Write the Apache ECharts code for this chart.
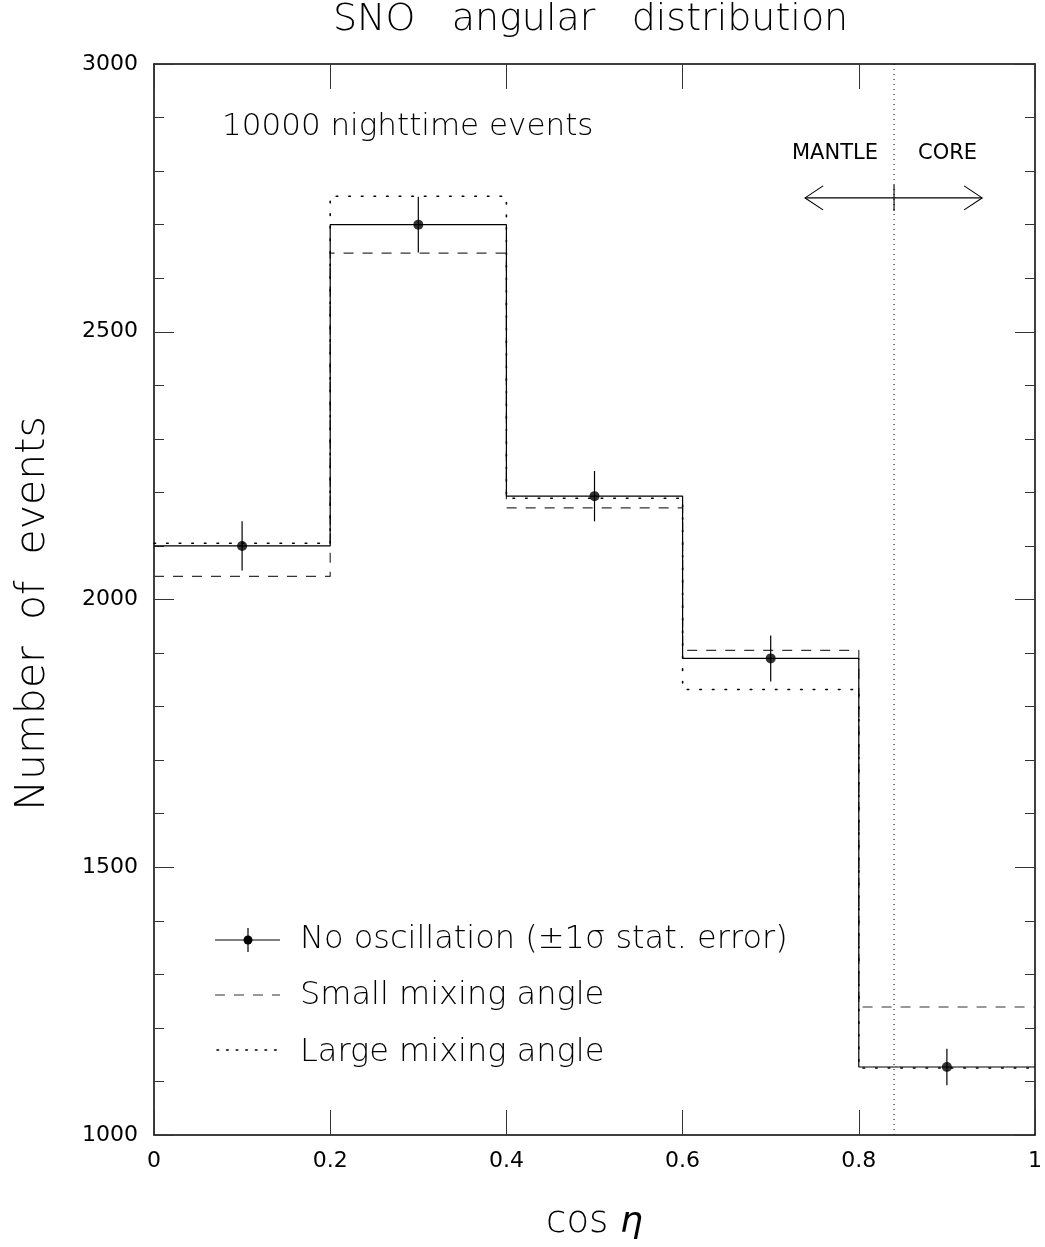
<!DOCTYPE html>
<html>
<head>
<meta charset="utf-8">
<script src="https://cdn.jsdelivr.net/npm/echarts@6/dist/echarts.min.js"></script>
<style>html,body{margin:0;padding:0;background:#fff;overflow:hidden;}#c{width:1045px;height:1247px;}</style>
</head>
<body>
<div id="c"></div>
<script>
// ---- data ----
const binEdges   = [0, 0.2, 0.4, 0.6, 0.8, 1.0];
const binCenters = [0.1, 0.3, 0.5, 0.7, 0.9];
const noOscillation = [2100, 2700, 2193, 1890, 1127];
const statErrors    = [46, 52, 47, 43, 34];
const smallMixing   = [2043, 2647, 2171, 1905, 1239];
const largeMixing   = [2105, 2753, 2189, 1832, 1125];
const mantleCoreBoundary = 0.84;
const arrowSpan = [0.739, 0.94];
const arrowLevel = 2750;
const yTicks = [1000, 1500, 2000, 2500, 3000];
const xTicks = [0, 0.2, 0.4, 0.6, 0.8, 1];

const FONT = 'DejaVu Sans';

function stepData(vals) {
  const pts = vals.map((v, i) => [binEdges[i], v]);
  pts.push([binEdges[binEdges.length - 1], vals[vals.length - 1]]);
  return pts;
}

const chart = echarts.init(document.getElementById('c'), null, {renderer: 'canvas', width: 1045, height: 1247});

const axisLineStyle = {lineStyle: {color: '#000', width: 1.5}};
const tickStyle = {color: '#333', width: 1};
const labelStyle = {color: '#000', fontSize: 22, fontFamily: FONT, fontWeight: 'normal'};

const option = {
  backgroundColor: '#fff',
  animation: false,
  grid: {left: 154, top: 64, width: 881, height: 1071, containLabel: false},
  xAxis: [
    {
      type: 'value', min: xTicks[0], max: xTicks[xTicks.length - 1], interval: 0.2, position: 'bottom',
      axisLine: {show: true, onZero: false, ...axisLineStyle},
      axisTick: {show: true, inside: true, length: 25, lineStyle: tickStyle},
      axisLabel: {show: true, margin: 15, ...labelStyle, formatter: v => String(v)},
      splitLine: {show: false},
      name: '{a|cos }{b|η}', nameLocation: 'middle', nameGap: 69,
      nameTextStyle: {rich: {
        a: {fontSize: 37, fontFamily: FONT, fontWeight: 200, color: '#000'},
        b: {fontSize: 36, fontFamily: FONT, fontWeight: 200, fontStyle: 'italic', color: '#000'}
      }}
    },
    {
      type: 'value', min: 0, max: 1, interval: 0.2, position: 'top',
      axisLine: {show: true, onZero: false, ...axisLineStyle},
      axisTick: {show: true, inside: true, length: 25, lineStyle: tickStyle},
      axisLabel: {show: false}, splitLine: {show: false}
    }
  ],
  yAxis: [
    {
      type: 'value', min: yTicks[0], max: yTicks[yTicks.length - 1], interval: 500, position: 'left',
      axisLine: {show: true, onZero: false, ...axisLineStyle},
      axisTick: {show: true, inside: true, length: 20, lineStyle: tickStyle},
      minorTick: {show: true, splitNumber: 5, length: 10, lineStyle: tickStyle},
      axisLabel: {show: true, margin: 16, ...labelStyle, formatter: v => String(v)},
      splitLine: {show: false},
      name: 'Number  of  events', nameLocation: 'middle', nameGap: 100,
      nameTextStyle: {fontSize: 41, fontFamily: FONT, fontWeight: 200, color: '#000', padding: [0, 28, 0, 0]}
    },
    {
      type: 'value', min: 1000, max: 3000, interval: 500, position: 'right',
      axisLine: {show: true, onZero: false, ...axisLineStyle},
      axisTick: {show: true, inside: true, length: 20, lineStyle: tickStyle},
      minorTick: {show: true, splitNumber: 5, length: 10, lineStyle: tickStyle},
      axisLabel: {show: false}, splitLine: {show: false}
    }
  ],
  series: [
    {
      name: 'Small mixing angle', type: 'line', step: 'end', data: stepData(smallMixing),
      showSymbol: false, symbol: 'none', z: 2,
      lineStyle: {color: '#333', width: 1.2, type: [10, 9]}
    },
    {
      name: 'Large mixing angle', type: 'line', step: 'end', data: stepData(largeMixing),
      showSymbol: false, symbol: 'none', z: 2,
      lineStyle: {color: '#000', width: 1.6, type: [1.6, 11], cap: 'round'}
    },
    {
      name: 'No oscillation', type: 'line', step: 'end', data: stepData(noOscillation),
      showSymbol: false, symbol: 'none', z: 3,
      lineStyle: {color: '#000', width: 1.2, type: 'solid'}
    },
    {
      name: 'points', type: 'scatter', data: binCenters.map((x, i) => [x, noOscillation[i]]),
      symbol: 'circle', symbolSize: 10, itemStyle: {color: '#000'}, z: 5
    },
    {
      name: 'errors', type: 'custom', z: 4,
      data: binCenters.map((x, i) => [x, noOscillation[i], statErrors[i]]),
      renderItem: function (params, api) {
        const x = api.value(0), y = api.value(1), e = api.value(2);
        const p1 = api.coord([x, y - e]);
        const p2 = api.coord([x, y + e]);
        return {type: 'line', shape: {x1: p1[0], y1: p1[1], x2: p2[0], y2: p2[1]},
                style: {stroke: '#000', lineWidth: 1.2}};
      }
    },
    {
      name: 'boundary', type: 'line', data: [[mantleCoreBoundary, 1000], [mantleCoreBoundary, 3000]],
      showSymbol: false, symbol: 'none', z: 1,
      lineStyle: {color: '#000', width: 1, type: [1, 4]}
    },
    {
      name: 'arrow', type: 'custom', z: 6,
      data: [[arrowSpan[0], arrowLevel, arrowSpan[1], mantleCoreBoundary]],
      renderItem: function (params, api) {
        const L = api.coord([api.value(0), api.value(1)]);
        const R = api.coord([api.value(2), api.value(1)]);
        const M = api.coord([api.value(3), api.value(1)]);
        const st = {stroke: '#000', lineWidth: 1.1, fill: null};
        return {type: 'group', children: [
          {type: 'line', shape: {x1: L[0], y1: L[1], x2: R[0], y2: R[1]}, style: st},
          {type: 'line', shape: {x1: M[0], y1: M[1] - 13, x2: M[0], y2: M[1] + 13}, style: st},
          {type: 'polyline', shape: {points: [[L[0] + 18, L[1] - 12], [L[0], L[1]], [L[0] + 18, L[1] + 12]]}, style: st},
          {type: 'polyline', shape: {points: [[R[0] - 18, R[1] - 12], [R[0], R[1]], [R[0] - 18, R[1] + 12]]}, style: st}
        ]};
      }
    }
  ],
  graphic: [
    {type: 'text', left: 333, top: 1, style: {text: 'SNO   angular   distribution', fontSize: 38, fontFamily: FONT, fontWeight: 200, fill: '#000'}},
    {type: 'text', left: 222, top: 111, style: {text: '10000 nighttime events', fontSize: 31, fontFamily: FONT, fontWeight: 200, fill: '#000'}},
    {type: 'text', left: 792, top: 143, style: {text: 'MANTLE', fontSize: 21, fontFamily: FONT, fontWeight: 'normal', fill: '#000'}},
    {type: 'text', left: 918, top: 143, style: {text: 'CORE', fontSize: 21, fontFamily: FONT, fontWeight: 'normal', fill: '#000'}},
    // legend
    {type: 'line', shape: {x1: 215, y1: 940, x2: 280, y2: 940}, style: {stroke: '#000', lineWidth: 1.2}},
    {type: 'line', shape: {x1: 248, y1: 928, x2: 248, y2: 952}, style: {stroke: '#000', lineWidth: 1.2}},
    {type: 'circle', shape: {cx: 248, cy: 940, r: 4.5}, style: {fill: '#000'}},
    {type: 'text', left: 300, top: 924, style: {text: 'No oscillation (±1σ stat. error)', fontSize: 32, fontFamily: FONT, fontWeight: 200, fill: '#000'}},
    {type: 'line', shape: {x1: 215, y1: 995, x2: 280, y2: 995}, style: {stroke: '#333', lineWidth: 1.2, lineDash: [10, 9]}},
    {type: 'text', left: 300, top: 980, style: {text: 'Small mixing angle', fontSize: 32, fontFamily: FONT, fontWeight: 200, fill: '#000'}},
    {type: 'line', shape: {x1: 217, y1: 1050, x2: 280, y2: 1050}, style: {stroke: '#000', lineWidth: 1.6, lineDash: [1.6, 8], lineCap: 'round'}},
    {type: 'text', left: 300, top: 1037, style: {text: 'Large mixing angle', fontSize: 32, fontFamily: FONT, fontWeight: 200, fill: '#000'}}
  ]
};
chart.setOption(option);
</script>
</body>
</html>
